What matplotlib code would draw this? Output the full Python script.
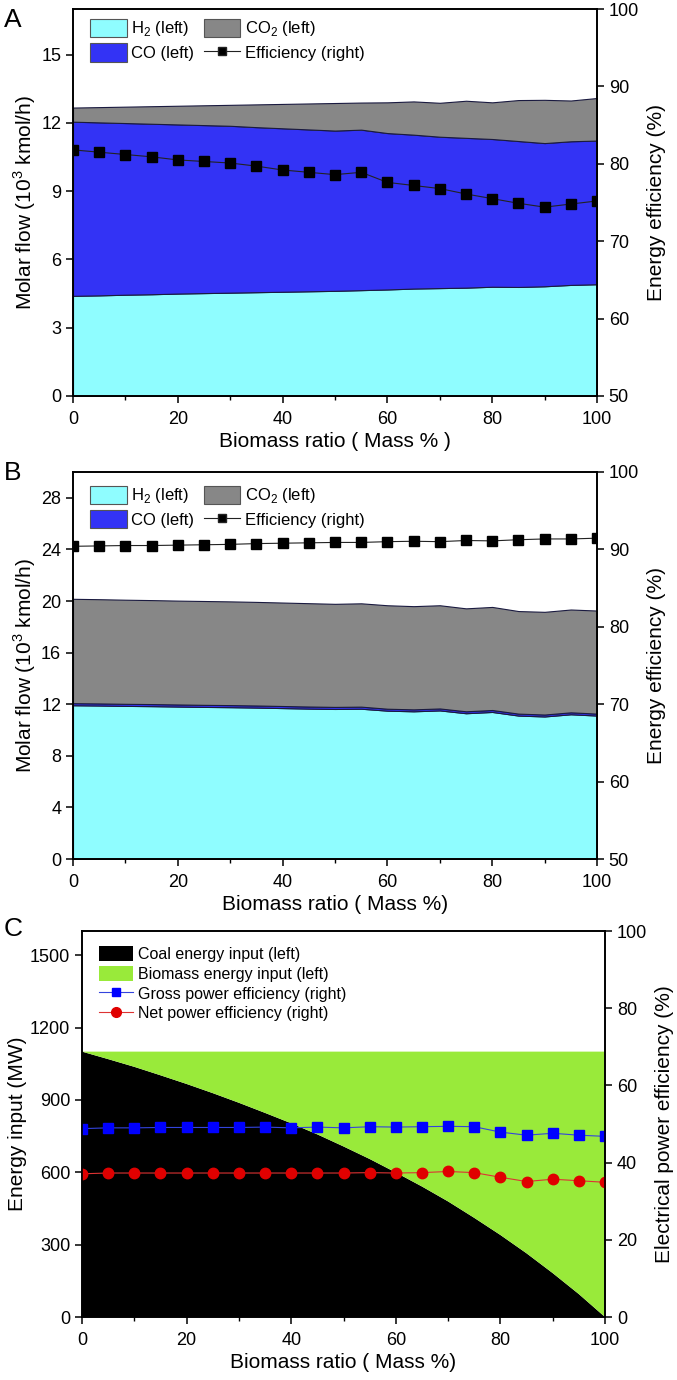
import matplotlib
matplotlib.use("Agg")
import matplotlib.pyplot as plt
from matplotlib.patches import Patch
from matplotlib.lines import Line2D
from matplotlib.ticker import MultipleLocator

plt.rcParams["font.family"] = ["Liberation Sans", "DejaVu Sans"]
plt.rcParams["mathtext.fontset"] = "custom"
plt.rcParams["mathtext.rm"] = "Liberation Sans"

# biomass ratio (mass %)
ratio = [0, 5, 10, 15, 20, 25, 30, 35, 40, 45, 50, 55, 60, 65, 70, 75, 80, 85, 90, 95, 100]

# panel A: molar flow (10^3 kmol/h) and energy efficiency (%)
a_h2 = [4.40, 4.42, 4.45, 4.47, 4.50, 4.52, 4.54, 4.56, 4.58, 4.60, 4.62,
        4.65, 4.68, 4.72, 4.74, 4.76, 4.80, 4.79, 4.82, 4.88, 4.91]
a_co = [7.65, 7.60, 7.54, 7.49, 7.43, 7.38, 7.33, 7.25, 7.18, 7.11, 7.04,
        7.05, 6.87, 6.76, 6.65, 6.58, 6.49, 6.41, 6.29, 6.31, 6.31]
a_co2 = [0.62, 0.67, 0.72, 0.77, 0.82, 0.87, 0.92, 1.00, 1.07, 1.14, 1.21,
         1.19, 1.35, 1.46, 1.49, 1.63, 1.61, 1.80, 1.90, 1.79, 1.87]
a_eff = [81.8, 81.5, 81.2, 80.9, 80.5, 80.3, 80.1, 79.7, 79.2, 78.9, 78.6,
         78.9, 77.6, 77.2, 76.8, 76.1, 75.5, 74.9, 74.4, 74.8, 75.2]

# panel B
b_h2 = [11.92, 11.90, 11.87, 11.85, 11.82, 11.79, 11.77, 11.74, 11.70, 11.66, 11.63,
        11.65, 11.50, 11.45, 11.52, 11.30, 11.40, 11.12, 11.05, 11.22, 11.12]
b_co = [0.16, 0.16, 0.16, 0.16, 0.16, 0.16, 0.16, 0.16, 0.16, 0.16, 0.16,
        0.16, 0.15, 0.15, 0.15, 0.15, 0.15, 0.15, 0.15, 0.15, 0.15]
b_co2 = [8.09, 8.08, 8.07, 8.06, 8.05, 8.05, 8.04, 8.03, 8.02, 8.01, 7.99,
         8.01, 8.02, 8.00, 8.00, 7.98, 7.99, 7.95, 7.96, 7.97, 7.99]
b_eff = [90.4, 90.45, 90.5, 90.5, 90.55, 90.6, 90.65, 90.75, 90.8, 90.85, 90.9,
         90.9, 91.0, 91.05, 91.0, 91.15, 91.1, 91.25, 91.35, 91.35, 91.45]

# panel C: energy input (MW) and electrical power efficiency (%)
coal = [1100, 1069, 1037, 1002, 966, 928, 888, 846, 803, 757, 707,
        655, 599, 541, 479, 411, 340, 264, 182, 95, 0]
biomass = [0, 31, 63, 98, 134, 172, 212, 254, 297, 343, 393,
           445, 501, 559, 621, 689, 760, 836, 918, 1005, 1100]
gross_eff = [48.8, 49.0, 49.0, 49.1, 49.1, 49.1, 49.1, 49.2, 49.0, 49.2, 49.0,
             49.3, 49.2, 49.3, 49.4, 49.3, 47.9, 47.1, 47.6, 47.1, 46.8]
net_eff = [37.1, 37.3, 37.3, 37.3, 37.3, 37.3, 37.3, 37.3, 37.3, 37.3, 37.3,
           37.4, 37.3, 37.4, 37.7, 37.4, 36.2, 35.1, 35.7, 35.3, 34.9]

C_H2 = "#8ffdff"
C_CO = "#3333f5"
C_CO2 = "#878787"
C_BIO = "#99ea3a"

W, H = 677, 1380
TICK = 13
LAB = 15
LEG = 12


def make_axes(fig, left, top, right, bottom):
    return fig.add_axes([left / W, (H - bottom) / H, (right - left) / W, (bottom - top) / H])


def style(ax, ax2):
    for a in (ax, ax2):
        for s in a.spines.values():
            s.set_linewidth(1.2)
        a.tick_params(direction="out", length=5, width=1.1, labelsize=TICK)
        a.tick_params(which="minor", direction="out", length=3, width=1.0)
    ax.tick_params(axis="x", pad=6)
    ax.set_xlim(0, 100)
    ax.xaxis.set_major_locator(MultipleLocator(20))
    ax.xaxis.set_minor_locator(MultipleLocator(10))


def gas_panel(fig, top, bottom, h2, co, co2, eff, ymax, ystep, xlabel, letter, letter_y, leg_y):
    ax = make_axes(fig, 73, top, 597, bottom)
    ax.stackplot(ratio, h2, co, co2, colors=[C_H2, C_CO, C_CO2],
                 edgecolor="#1a1a40", linewidth=0.8)
    ax.set_ylim(0, ymax)
    ax.yaxis.set_major_locator(MultipleLocator(ystep))
    ax2 = ax.twinx()
    ax2.plot(ratio, eff, color="#222222", lw=0.8, marker="s", ms=6.5,
             mfc="black", mec="black")
    ax2.set_ylim(50, 100)
    ax2.yaxis.set_major_locator(MultipleLocator(10))
    style(ax, ax2)
    ax.set_xlabel(xlabel, fontsize=LAB, labelpad=3)
    ax.set_ylabel("Molar flow (10$^3$ kmol/h)", fontsize=LAB, labelpad=2)
    ax2.set_ylabel("Energy efficiency (%)", fontsize=LAB, labelpad=6)
    handles = [
        Patch(facecolor=C_H2, edgecolor="#555555", lw=0.8),
        Patch(facecolor=C_CO, edgecolor="#555555", lw=0.8),
        Patch(facecolor=C_CO2, edgecolor="#555555", lw=0.8),
        Line2D([], [], color="#222222", lw=0.8, marker="s", ms=6, mfc="black"),
    ]
    labels = ["H$_2$ (left)", "CO (left)", "CO$_2$ (left)", "Efficiency (right)"]
    ax2.legend(handles, labels, loc="upper left", bbox_to_anchor=(0.01, leg_y),
               ncol=2, frameon=False, fontsize=LEG, handlelength=2.2,
               handleheight=1.3, handletextpad=0.25, columnspacing=0.6,
               labelspacing=0.3, borderaxespad=0.3)
    fig.text(4 / W, 1 - letter_y / H, letter, fontsize=19, va="center", ha="left")


fig = plt.figure(figsize=(W / 100, H / 100), dpi=100)

gas_panel(fig, 9, 396, a_h2, a_co, a_co2, a_eff, 17, 3,
          "Biomass ratio ( Mass % )", "A", 20, 1.005)
gas_panel(fig, 472, 859, b_h2, b_co, b_co2, b_eff, 30, 4,
          "Biomass ratio ( Mass %)", "B", 473, 0.995)

# panel C
ax = make_axes(fig, 82, 931, 605, 1317)
ax.stackplot(ratio, coal, biomass, colors=["black", C_BIO], linewidth=0)
ax.set_ylim(0, 1600)
ax.yaxis.set_major_locator(MultipleLocator(300))
ax2 = ax.twinx()
ax2.plot(ratio, gross_eff, color="#3344dd", lw=0.8, marker="s", ms=6.5,
         mfc="#0000ff", mec="#0000ff")
ax2.plot(ratio, net_eff, color="#dd3333", lw=0.8, marker="o", ms=7.5,
         mfc="#e00000", mec="#e00000")
ax2.set_ylim(0, 100)
ax2.yaxis.set_major_locator(MultipleLocator(20))
style(ax, ax2)
ax.set_xlabel("Biomass ratio ( Mass %)", fontsize=LAB, labelpad=3)
ax.set_ylabel("Energy input (MW)", fontsize=LAB, labelpad=2)
ax2.set_ylabel("Electrical power efficiency (%)", fontsize=LAB, labelpad=6)
handles = [
    Patch(facecolor="black", edgecolor="none"),
    Patch(facecolor=C_BIO, edgecolor="none"),
    Line2D([], [], color="#3344dd", lw=0.8, marker="s", ms=6, mfc="#0000ff", mec="#0000ff"),
    Line2D([], [], color="#dd3333", lw=0.8, marker="o", ms=7, mfc="#e00000", mec="#e00000"),
]
labels = ["Coal energy input (left)", "Biomass energy input (left)",
          "Gross power efficiency (right)", "Net power efficiency (right)"]
ax2.legend(handles, labels, loc="upper left", bbox_to_anchor=(0.012, 0.99),
           frameon=False, fontsize=11.5, handlelength=2.1, handleheight=1.05,
           handletextpad=0.3, labelspacing=0.25, borderaxespad=0.3)
fig.text(4 / W, 1 - 929 / H, "C", fontsize=19, va="center", ha="left")

fig.savefig("out.png", dpi=100)
